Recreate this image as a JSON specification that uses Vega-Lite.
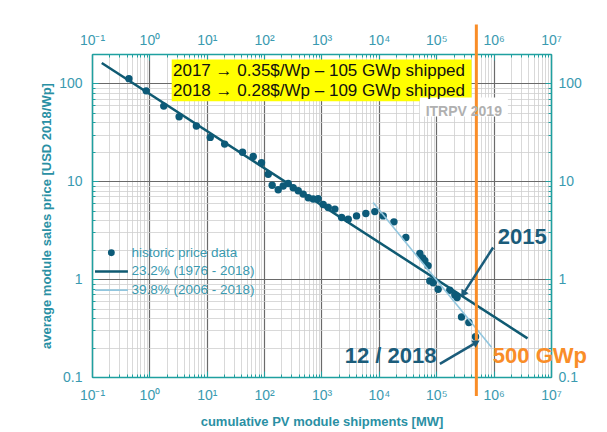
{
  "$schema": "https://vega.github.io/schema/vega-lite/v6.json",
  "width": 459,
  "height": 323,
  "autosize": {"type": "none"},
  "padding": {"left": 92, "top": 54, "right": 56, "bottom": 55},
  "background": "white",
  "config": {"view": {"stroke": null}, "font": "Liberation Sans"},
  "resolve": {"axis": {"x": "independent", "y": "independent"}},
  "layer": [
    {
      "data": {"values": [{"x_from": 2.45, "x_to": 412000, "y_from": 65.9, "y_to": 176}]},
      "mark": {"type": "rect", "color": "#ffff00"},
      "encoding": {
        "x": {"field": "x_from", "type": "quantitative", "scale": {"type": "log", "domain": [0.1, 10000000], "nice": false}, "axis": null},
        "x2": {"field": "x_to"},
        "y": {"field": "y_from", "type": "quantitative", "scale": {"type": "log", "domain": [0.1, 200], "nice": false}, "axis": null},
        "y2": {"field": "y_to"}
      }
    },
    {
      "data": {"values": [{"x_from": 51800, "x_to": 1770000, "y_from": 46, "y_to": 72}]},
      "mark": {"type": "rect", "color": "#ffffff"},
      "encoding": {
        "x": {"field": "x_from", "type": "quantitative", "axis": null},
        "x2": {"field": "x_to"},
        "y": {"field": "y_from", "type": "quantitative", "axis": null},
        "y2": {"field": "y_to"}
      }
    },
    {
      "data": {"values": [
        {"series": "23.2% (1976 - 2018)", "mw": 0.148, "price": 162},
        {"series": "23.2% (1976 - 2018)", "mw": 3900000, "price": 0.248}
      ]},
      "mark": {"type": "line", "strokeWidth": 2.5},
      "encoding": {
        "x": {"field": "mw", "type": "quantitative",
          "axis": {
            "orient": "top", "title": null, "grid": false,
            "values": [0.1,0.2,0.3,0.4,0.5,0.6,0.7,0.8,0.9,1,2,3,4,5,6,7,8,9,10,20,30,40,50,60,70,80,90,100,200,300,400,500,600,700,800,900,1000,2000,3000,4000,5000,6000,7000,8000,9000,10000,20000,30000,40000,50000,60000,70000,80000,90000,100000,200000,300000,400000,500000,600000,700000,800000,900000,1000000,2000000,3000000,4000000,5000000,6000000,7000000,8000000,9000000,10000000],
            "labelExpr": "abs(log(datum.value)/LN10 - round(log(datum.value)/LN10)) < 0.001 ? '10' + ['⁻¹','⁰','¹','²','³','⁴','⁵','⁶','⁷'][round(log(datum.value)/LN10) + 1] : ''",
            "labelFlush": false, "labelOverlap": false,
            "labelFont": "Liberation Sans", "labelFontSize": 14, "labelColor": "#3a9ab0",
            "labelPadding": 13,
            "domainColor": "#1fa0a0", "domainWidth": 1.5,
            "tickColor": "#1fa0a0", "tickWidth": 1,
            "tickSize": {"condition": {"test": "abs(log(datum.value)/LN10 - round(log(datum.value)/LN10)) < 0.001", "value": -6}, "value": -3}
          }
        },
        "y": {"field": "price", "type": "quantitative",
          "axis": {
            "orient": "right", "title": null, "grid": false,
            "values": [0.1,0.2,0.3,0.4,0.5,0.6,0.7,0.8,0.9,1,2,3,4,5,6,7,8,9,10,20,30,40,50,60,70,80,90,100,200],
            "labelExpr": "abs(log(datum.value)/LN10 - round(log(datum.value)/LN10)) < 0.001 ? format(datum.value, '~g') : ''",
            "labelFlush": false, "labelOverlap": false,
            "labelFont": "Liberation Sans", "labelFontSize": 14, "labelColor": "#3a9ab0",
            "labelPadding": 13,
            "domainColor": "#1fa0a0", "domainWidth": 1.5,
            "tickColor": "#1fa0a0", "tickWidth": 1,
            "tickSize": {"condition": {"test": "abs(log(datum.value)/LN10 - round(log(datum.value)/LN10)) < 0.001", "value": -6}, "value": -3}
          }
        },
        "color": {
          "field": "series", "type": "nominal",
          "scale": {
            "domain": ["historic price data", "23.2% (1976 - 2018)", "39.8% (2006 - 2018)"],
            "range": ["#0c5a78", "#0f5a72", "#92c6de"]
          },
          "legend": {
            "orient": "none", "legendX": 3, "legendY": 190.7, "title": null, "padding": 0,
            "labelFont": "Liberation Sans", "labelFontSize": 13.5, "labelColor": "#3a9ab0",
            "symbolType": "stroke", "symbolSize": 1100, "clipHeight": 16, "rowPadding": 2.7,
            "symbolOffset": 9.6, "labelOffset": 13.4,
            "encode": {
              "symbols": {
                "update": {
                  "shape": {"signal": "datum.value === 'historic price data' ? 'M -0.16,0 A 0.16,0.16 0 1,0 0.16,0 A 0.16,0.16 0 1,0 -0.16,0 Z' : 'stroke'"},
                  "size": {"value": 1100},
                  "fill": {"signal": "datum.value === 'historic price data' ? '#0c5a78' : 'transparent'"},
                  "stroke": {"signal": "datum.value === 'historic price data' ? 'transparent' : (datum.value === '23.2% (1976 - 2018)' ? '#0f5a72' : '#92c6de')"},
                  "strokeWidth": {"signal": "datum.value === '23.2% (1976 - 2018)' ? 2.5 : 1.6"},
                  "opacity": {"value": 1}
                }
              }
            }
          }
        }
      }
    },
    {
      "data": {"values": [
        {"series": "historic price data", "mw": 0.44, "price": 112},
        {"series": "historic price data", "mw": 0.88, "price": 84},
        {"series": "historic price data", "mw": 1.78, "price": 58.7},
        {"series": "historic price data", "mw": 3.3, "price": 45.7},
        {"series": "historic price data", "mw": 6.6, "price": 36.7},
        {"series": "historic price data", "mw": 11.5, "price": 28.1},
        {"series": "historic price data", "mw": 20.5, "price": 24},
        {"series": "historic price data", "mw": 42, "price": 19.8},
        {"series": "historic price data", "mw": 64.6, "price": 17.9},
        {"series": "historic price data", "mw": 90, "price": 15.5},
        {"series": "historic price data", "mw": 118, "price": 11.8},
        {"series": "historic price data", "mw": 138, "price": 9.1},
        {"series": "historic price data", "mw": 176, "price": 8.2},
        {"series": "historic price data", "mw": 215, "price": 8.95},
        {"series": "historic price data", "mw": 263, "price": 9.5},
        {"series": "historic price data", "mw": 321, "price": 8.6},
        {"series": "historic price data", "mw": 393, "price": 8.0},
        {"series": "historic price data", "mw": 480, "price": 7.4},
        {"series": "historic price data", "mw": 588, "price": 6.8},
        {"series": "historic price data", "mw": 716, "price": 6.6},
        {"series": "historic price data", "mw": 874, "price": 6.65},
        {"series": "historic price data", "mw": 1070, "price": 5.8},
        {"series": "historic price data", "mw": 1310, "price": 5.4},
        {"series": "historic price data", "mw": 1710, "price": 5.2},
        {"series": "historic price data", "mw": 2240, "price": 4.26},
        {"series": "historic price data", "mw": 2920, "price": 4.1},
        {"series": "historic price data", "mw": 4080, "price": 4.43},
        {"series": "historic price data", "mw": 5930, "price": 4.68},
        {"series": "historic price data", "mw": 8500, "price": 4.9},
        {"series": "historic price data", "mw": 11900, "price": 4.43},
        {"series": "historic price data", "mw": 18300, "price": 3.85},
        {"series": "historic price data", "mw": 29500, "price": 2.66},
        {"series": "historic price data", "mw": 51800, "price": 1.83},
        {"series": "historic price data", "mw": 58000, "price": 1.65},
        {"series": "historic price data", "mw": 63300, "price": 1.54},
        {"series": "historic price data", "mw": 72000, "price": 1.37},
        {"series": "historic price data", "mw": 77300, "price": 0.96},
        {"series": "historic price data", "mw": 88300, "price": 0.92},
        {"series": "historic price data", "mw": 108000, "price": 0.79},
        {"series": "historic price data", "mw": 172000, "price": 0.77},
        {"series": "historic price data", "mw": 211000, "price": 0.69},
        {"series": "historic price data", "mw": 231000, "price": 0.65},
        {"series": "historic price data", "mw": 276000, "price": 0.41},
        {"series": "historic price data", "mw": 370000, "price": 0.36},
        {"series": "historic price data", "mw": 484000, "price": 0.258}
      ]},
      "mark": {"type": "point", "filled": true, "size": 55, "opacity": 1},
      "encoding": {
        "x": {"field": "mw", "type": "quantitative",
          "axis": {
            "orient": "bottom", "title": "cumulative PV module shipments [MW]",
            "values": [0.1,0.2,0.3,0.4,0.5,0.6,0.7,0.8,0.9,1,2,3,4,5,6,7,8,9,10,20,30,40,50,60,70,80,90,100,200,300,400,500,600,700,800,900,1000,2000,3000,4000,5000,6000,7000,8000,9000,10000,20000,30000,40000,50000,60000,70000,80000,90000,100000,200000,300000,400000,500000,600000,700000,800000,900000,1000000,2000000,3000000,4000000,5000000,6000000,7000000,8000000,9000000,10000000],
            "labelExpr": "abs(log(datum.value)/LN10 - round(log(datum.value)/LN10)) < 0.001 ? '10' + ['⁻¹','⁰','¹','²','³','⁴','⁵','⁶','⁷'][round(log(datum.value)/LN10) + 1] : ''",
            "labelFlush": false, "labelOverlap": false,
            "labelFont": "Liberation Sans", "labelFontSize": 14, "labelColor": "#3a9ab0",
            "labelPadding": 17,
            "grid": true,
            "gridColor": {"condition": {"test": "abs(log(datum.value)/LN10 - round(log(datum.value)/LN10)) < 0.001", "value": "#6a6a6a"}, "value": "#cfcfcf"},
            "gridWidth": {"condition": {"test": "abs(log(datum.value)/LN10 - round(log(datum.value)/LN10)) < 0.001", "value": 1.2}, "value": 0.8},
            "domainColor": "#1fa0a0", "domainWidth": 1.5,
            "tickColor": "#1fa0a0", "tickWidth": 1,
            "tickSize": {"condition": {"test": "abs(log(datum.value)/LN10 - round(log(datum.value)/LN10)) < 0.001", "value": -6}, "value": -3},
            "titleFont": "Liberation Sans", "titleFontSize": 13, "titleFontWeight": "bold", "titleColor": "#2a90a4", "titlePadding": 10
          }
        },
        "y": {"field": "price", "type": "quantitative",
          "axis": {
            "orient": "left", "title": "average module sales price [USD 2018/Wp]",
            "values": [0.1,0.2,0.3,0.4,0.5,0.6,0.7,0.8,0.9,1,2,3,4,5,6,7,8,9,10,20,30,40,50,60,70,80,90,100,200],
            "labelExpr": "abs(log(datum.value)/LN10 - round(log(datum.value)/LN10)) < 0.001 ? format(datum.value, '~g') : ''",
            "labelFlush": false, "labelOverlap": false,
            "labelFont": "Liberation Sans", "labelFontSize": 14, "labelColor": "#3a9ab0",
            "labelPadding": 16,
            "grid": true,
            "gridColor": {"condition": {"test": "abs(log(datum.value)/LN10 - round(log(datum.value)/LN10)) < 0.001", "value": "#6a6a6a"}, "value": "#cfcfcf"},
            "gridWidth": {"condition": {"test": "abs(log(datum.value)/LN10 - round(log(datum.value)/LN10)) < 0.001", "value": 1.2}, "value": 0.8},
            "domainColor": "#1fa0a0", "domainWidth": 1.5,
            "tickColor": "#1fa0a0", "tickWidth": 1,
            "tickSize": {"condition": {"test": "abs(log(datum.value)/LN10 - round(log(datum.value)/LN10)) < 0.001", "value": -6}, "value": -3},
            "titleFont": "Liberation Sans", "titleFontSize": 13, "titleFontWeight": "bold", "titleColor": "#2a90a4", "titlePadding": 5
          }
        },
        "color": {"field": "series", "type": "nominal"}
      }
    },
    {
      "data": {"values": [
        {"series": "39.8% (2006 - 2018)", "mw": 7940, "price": 6.07},
        {"series": "39.8% (2006 - 2018)", "mw": 919000, "price": 0.201}
      ]},
      "mark": {"type": "line", "strokeWidth": 1.6},
      "encoding": {
        "x": {"field": "mw", "type": "quantitative", "axis": null},
        "y": {"field": "price", "type": "quantitative", "axis": null},
        "color": {"field": "series", "type": "nominal"}
      }
    },
    {
      "data": {"values": [{"mw": 500000, "top": 400, "bottom": 0.064}]},
      "mark": {"type": "rule", "color": "#f98d28", "strokeWidth": 3},
      "encoding": {
        "x": {"field": "mw", "type": "quantitative", "axis": null},
        "y": {"field": "top", "type": "quantitative", "axis": null},
        "y2": {"field": "bottom"}
      }
    },
    {
      "data": {"values": [
        {"text": "2017 → 0.35$/Wp – 105 GWp shipped", "mw": 2.58, "price": 133.5},
        {"text": "2018 → 0.28$/Wp – 109 GWp shipped", "mw": 2.58, "price": 83.4}
      ]},
      "mark": {"type": "text", "align": "left", "baseline": "middle", "font": "Liberation Sans", "fontSize": 17, "color": "#111111"},
      "encoding": {
        "x": {"field": "mw", "type": "quantitative", "axis": null},
        "y": {"field": "price", "type": "quantitative", "axis": null},
        "text": {"field": "text"}
      }
    },
    {
      "data": {"values": [{"text": "ITRPV 2019", "mw": 302000, "price": 50.5}]},
      "mark": {"type": "text", "align": "center", "baseline": "middle", "font": "Liberation Sans", "fontSize": 14, "fontWeight": "bold", "color": "#b0b0b0"},
      "encoding": {
        "x": {"field": "mw", "type": "quantitative", "axis": null},
        "y": {"field": "price", "type": "quantitative", "axis": null},
        "text": {"field": "text"}
      }
    },
    {
      "data": {"values": [{"x_from": 980000, "y_from": 2.107, "x_to": 294000, "y_to": 0.703}]},
      "layer": [
        {
          "mark": {"type": "rule", "color": "#1b5c7a", "strokeWidth": 2.5},
          "encoding": {
            "x": {"field": "x_from", "type": "quantitative", "axis": null},
            "y": {"field": "y_from", "type": "quantitative", "axis": null},
            "x2": {"field": "x_to"},
            "y2": {"field": "y_to"}
          }
        },
        {
          "mark": {"type": "point", "shape": "triangle-up", "filled": true, "size": 70, "angle": 212.7, "color": "#1b5c7a", "opacity": 1},
          "encoding": {
            "x": {"field": "x_to", "type": "quantitative", "axis": null},
            "y": {"field": "y_to", "type": "quantitative", "axis": null}
          }
        }
      ]
    },
    {
      "data": {"values": [{"x_from": 115700, "y_from": 0.136, "x_to": 503000, "y_to": 0.226}]},
      "layer": [
        {
          "mark": {"type": "rule", "color": "#1b5c7a", "strokeWidth": 2.5},
          "encoding": {
            "x": {"field": "x_from", "type": "quantitative", "axis": null},
            "y": {"field": "y_from", "type": "quantitative", "axis": null},
            "x2": {"field": "x_to"},
            "y2": {"field": "y_to"}
          }
        },
        {
          "mark": {"type": "point", "shape": "triangle-up", "filled": true, "size": 70, "angle": 59.4, "color": "#1b5c7a", "opacity": 1},
          "encoding": {
            "x": {"field": "x_to", "type": "quantitative", "axis": null},
            "y": {"field": "y_to", "type": "quantitative", "axis": null}
          }
        }
      ]
    },
    {
      "data": {"values": [{"text": "2015", "mw": 1180000, "price": 2.69}]},
      "mark": {"type": "text", "align": "left", "baseline": "middle", "font": "Liberation Sans", "fontSize": 22, "fontWeight": "bold", "color": "#1b5c7a"},
      "encoding": {
        "x": {"field": "mw", "type": "quantitative", "axis": null},
        "y": {"field": "price", "type": "quantitative", "axis": null},
        "text": {"field": "text"}
      }
    },
    {
      "data": {"values": [{"text": "12 / 2018", "mw": 101000, "price": 0.165}]},
      "mark": {"type": "text", "align": "right", "baseline": "middle", "font": "Liberation Sans", "fontSize": 22, "fontWeight": "bold", "color": "#1b5c7a"},
      "encoding": {
        "x": {"field": "mw", "type": "quantitative", "axis": null},
        "y": {"field": "price", "type": "quantitative", "axis": null},
        "text": {"field": "text"}
      }
    },
    {
      "data": {"values": [{"text": "500 GWp", "mw": 970000, "price": 0.165}]},
      "mark": {"type": "text", "align": "left", "baseline": "middle", "font": "Liberation Sans", "fontSize": 22, "fontWeight": "bold", "color": "#f98d28"},
      "encoding": {
        "x": {"field": "mw", "type": "quantitative", "axis": null},
        "y": {"field": "price", "type": "quantitative", "axis": null},
        "text": {"field": "text"}
      }
    }
  ]
}
